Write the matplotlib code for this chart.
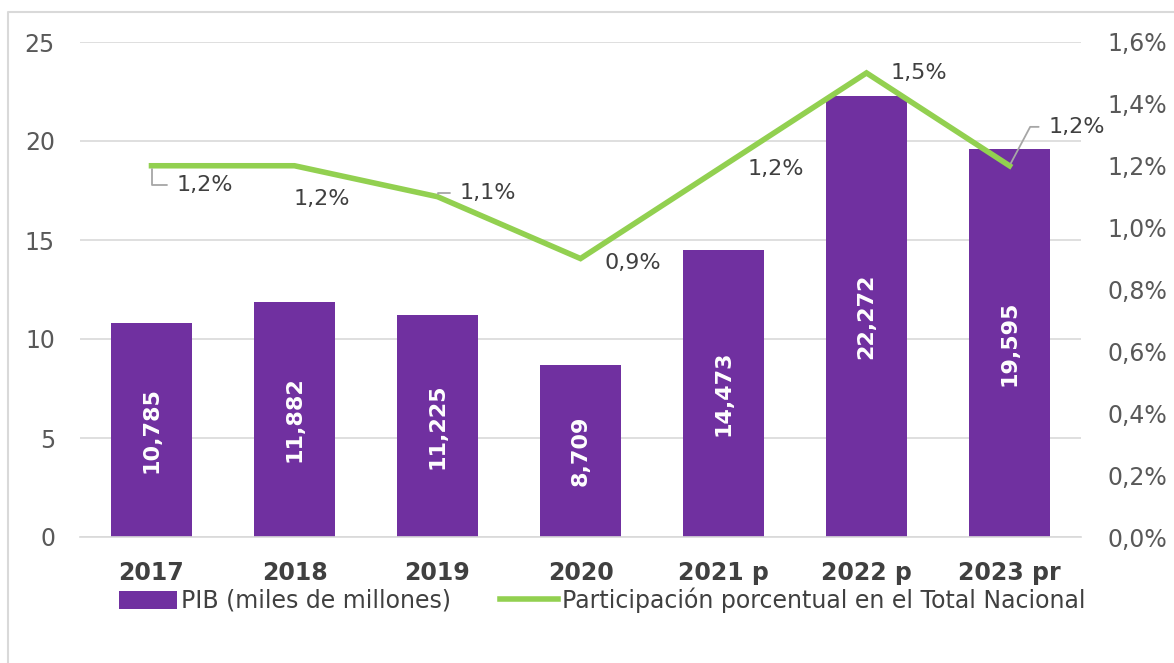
import matplotlib.pyplot as plt
from matplotlib.lines import Line2D
from matplotlib.ticker import FuncFormatter

years = ['2017', '2018', '2019', '2020', '2021 p', '2022 p', '2023 pr']
pib = [10.785, 11.882, 11.225, 8.709, 14.473, 22.272, 19.595]
pib_labels = ['10,785', '11,882', '11,225', '8,709', '14,473', '22,272', '19,595']
share = [1.2, 1.2, 1.1, 0.9, 1.2, 1.5, 1.2]

purple = '#7030A0'
green = '#92D050'
gray = '#595959'
dark = '#404040'

plt.rcParams['font.family'] = ['DejaVu Sans']

W, H = 1174, 663
fig = plt.figure(figsize=(W / 100, H / 100), dpi=100)
ax = fig.add_axes([80 / W, 1 - 537 / H, 1001 / W, 495 / H])
ax2 = ax.twinx()

x = list(range(len(years)))
bars = ax.bar(x, pib, width=0.57, color=purple, zorder=2, label='PIB (miles de millones)')
for xi, v, lab in zip(x, pib, pib_labels):
    ax.text(xi, v / 2, lab, rotation=90, ha='center', va='center',
            color='white', fontsize=16, fontweight='bold', zorder=3)

ax.set_ylim(0, 25)
ax.set_yticks(range(0, 26, 5))
ax.set_xlim(-0.5, len(years) - 0.5)
ax.set_xticks(x)
ax.set_xticklabels(years, fontsize=17, fontweight='bold', color=dark)
ax.tick_params(axis='y', labelsize=17, colors=gray, length=0, pad=18)
ax.tick_params(axis='x', length=0, pad=17)
ax.grid(axis='y', color='#D9D9D9', linewidth=1.2, zorder=0)
ax.set_axisbelow(True)
for s in ['top', 'left', 'right']:
    ax.spines[s].set_visible(False)
ax.spines['bottom'].set_color('#D9D9D9')
ax.spines['bottom'].set_linewidth(1.2)

line, = ax2.plot(x, share, color=green, linewidth=4, zorder=4,
                 solid_joinstyle='miter',
                 label='Participación porcentual en el Total Nacional')
ax2.set_ylim(0, 1.6)
ax2.set_yticks([i * 0.2 for i in range(9)])
ax2.yaxis.set_major_formatter(FuncFormatter(lambda v, p: f'{v:.1f}%'.replace('.', ',')))
ax2.tick_params(axis='y', labelsize=17, colors=gray, length=0, pad=19)
for s in ax2.spines.values():
    s.set_visible(False)

# line labels: text offset (points) and leader line style
offsets = [(18, -14), (20, -24), (16, 3), (38, -3), (38, -2), (38, 0), (28, 28)]
leaders = ['angle,angleA=0,angleB=90,rad=0', None, 'angle,angleA=0,angleB=90,rad=0',
           None, None, None, 'angle,angleA=0,angleB=62,rad=0']
for xi, v, off, lead in zip(x, share, offsets, leaders):
    txt = f'{v:.1f}%'.replace('.', ',')
    if lead:
        ax2.annotate(txt, (xi, v), xytext=off, textcoords='offset points',
                     ha='left', va='center', fontsize=16, color=dark, zorder=5,
                     arrowprops=dict(arrowstyle='-', color='#A6A6A6', lw=1.3,
                                     connectionstyle=lead, relpos=(0, 0.5),
                                     shrinkA=5, shrinkB=2))
    else:
        ax2.annotate(txt, (xi, v), xytext=off, textcoords='offset points',
                     ha='center', va='center', fontsize=16, color=dark, zorder=5)

fig.legend([bars, line], [bars.get_label(), line.get_label()],
           loc='center', bbox_to_anchor=(0.513, 1 - 600 / H), ncol=2, frameon=False,
           fontsize=17, labelcolor=dark, handlelength=2.45, handleheight=0.8,
           columnspacing=2.1, handletextpad=0.15)

# outer frame (top and left edges visible in the crop)
fig.lines.append(Line2D([8 / W, 8 / W, 1], [0, 1 - 12 / H, 1 - 12 / H],
                        transform=fig.transFigure, color='#D9D9D9', linewidth=1.5))

fig.savefig('out.png', dpi=100)
